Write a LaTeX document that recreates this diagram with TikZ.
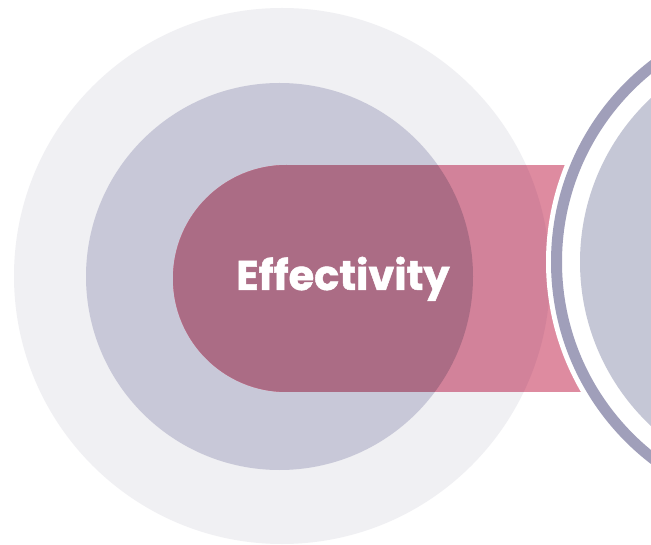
\documentclass[tikz,border=0pt]{standalone}
\usepackage{fontspec}
\newfontfamily\popfont{Poppins}[BoldFeatures={FakeBold=1.2}]
\definecolor{bigc}{HTML}{F0F0F3}
\definecolor{medc}{HTML}{C8C8D8}
\definecolor{pinkw}{HTML}{DE8BA0}
\definecolor{pinkl}{HTML}{D2829A}
\definecolor{pinkm}{HTML}{AB6C85}
\definecolor{ringc}{HTML}{A09FBA}
\definecolor{innerc}{HTML}{C5C7D6}
\newcommand{\pillfill}[1]{%
  \fill[#1] (286.5,278.5) circle (113.5);
  \fill[#1] (286.5,165) rectangle (620,392);}
\begin{document}
\begin{tikzpicture}[x=1pt,y=-1pt,
  labelstyle/.style={text=white,font=\popfont\bfseries\fontsize{41.5}{45}\selectfont,inner sep=0pt,anchor=base}]
\useasboundingbox (0,0) rectangle (651,545);
\fill[white] (0,0) rectangle (651,545);
\fill[bigc] (282,276) circle (268);
\fill[medc] (279.5,276.5) circle (193.5);
\pillfill{pinkw}
\begin{scope}
  \clip (282,276) circle (268);
  \pillfill{pinkl}
\end{scope}
\begin{scope}
  \clip (279.5,276.5) circle (193.5);
  \pillfill{pinkm}
\end{scope}
\fill[white] (805,262) circle (259);
\draw[ringc, line width=11pt] (805,262) circle (248.5);
\fill[innerc] (805,262) circle (225);
\node[labelstyle] (label) at (343,290) {Effectivity};
\end{tikzpicture}
\end{document}
